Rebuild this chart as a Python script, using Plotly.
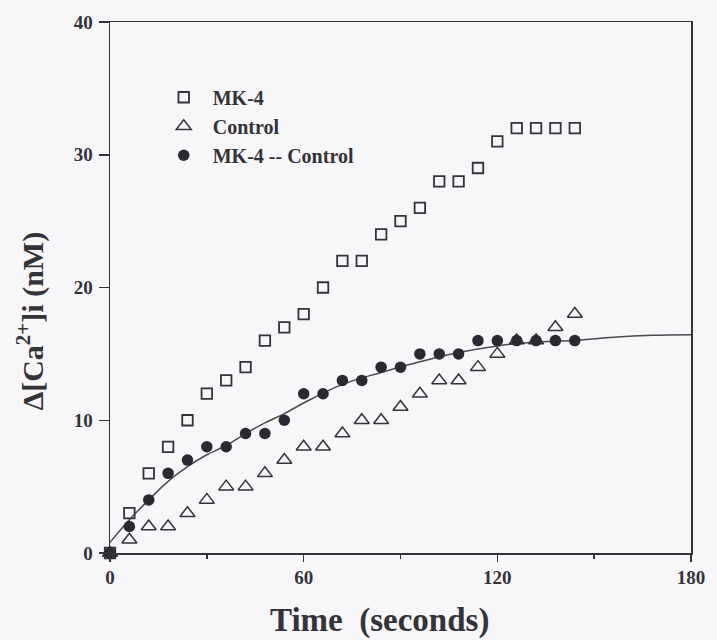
import plotly.graph_objects as go

# Data
time_s = [0, 6, 12, 18, 24, 30, 36, 42, 48, 54, 60, 66, 72, 78, 84, 90,
          96, 102, 108, 114, 120, 126, 132, 138, 144]
mk4 = [0, 3, 6, 8, 10, 12, 13, 14, 16, 17, 18, 20, 22, 22, 24, 25,
       26, 28, 28, 29, 31, 32, 32, 32, 32]
control = [0, 1, 2, 2, 3, 4, 5, 5, 6, 7, 8, 8, 9, 10, 10, 11,
           12, 13, 13, 14, 15, 16, 16, 17, 18]
mk4_minus_control = [0, 2, 4, 6, 7, 8, 8, 9, 9, 10, 12, 12, 13, 13, 14, 14,
                     15, 15, 15, 16, 16, 16, 16, 16, 16]

# Fitted curve
curve_t = [0, 6, 12, 18, 24, 30, 36, 42, 48, 54, 60, 72, 84, 96, 108, 120,
           132, 144, 156, 168, 180]
curve_v = [0.8, 2.5, 4.0, 5.4, 6.5, 7.4, 8.1, 9.0, 9.8, 10.5, 11.3, 12.7,
           13.6, 14.4, 15.1, 15.6, 15.9, 16.0, 16.25, 16.4, 16.45]

x_ticks = [0, 60, 120, 180]
y_ticks = [0, 10, 20, 30, 40]

INK = "#333338"
BG = "#f7f6f8"
FONT = "Liberation Serif"

fig = go.Figure()

fig.add_trace(go.Scatter(
    x=curve_t, y=curve_v, mode="lines", line=dict(color="#4a4a4f", width=1.5, shape="spline"),
    showlegend=False, hoverinfo="skip"))

fig.add_trace(go.Scatter(
    x=time_s, y=mk4, mode="markers", name="MK-4",
    marker=dict(symbol="square-open", size=10.5, color=INK, line=dict(width=1.8, color=INK)),
    cliponaxis=False))

fig.add_trace(go.Scatter(
    x=time_s, y=control, mode="markers", name="Control",
    marker=dict(symbol="triangle-up-open", size=13, color=INK, line=dict(width=1.5, color=INK)),
    cliponaxis=False))

fig.add_trace(go.Scatter(
    x=time_s, y=mk4_minus_control, mode="markers", name="MK-4 -- Control",
    marker=dict(symbol="circle", size=11.5, color="#2a2a33", line=dict(width=0)),
    cliponaxis=False))

tick_font = dict(family=FONT, size=19, color=INK, weight="bold")

fig.update_layout(
    width=717, height=640,
    margin=dict(l=109.5, r=17, t=20.5, b=87),
    paper_bgcolor=BG, plot_bgcolor=BG,
    font=dict(family=FONT, color=INK),
    showlegend=True,
    legend=dict(
        x=0.077, y=0.895, xanchor="left", yanchor="top",
        bgcolor="rgba(0,0,0,0)", borderwidth=0,
        font=dict(family=FONT, size=20, color=INK, weight="bold"),
        itemwidth=48, tracegroupgap=0),
    xaxis=dict(
        range=[0, 180], tickvals=x_ticks, ticktext=[str(v) for v in x_ticks],
        ticks="outside", ticklen=7, tickwidth=1.5, tickcolor=INK,
        minor=dict(dtick=30, tick0=0, ticks="outside", ticklen=4, tickwidth=1.5, tickcolor=INK),
        showgrid=False, zeroline=False, showline=True, linecolor=INK, linewidth=1.5,
        mirror=True, tickfont=tick_font, fixedrange=True),
    yaxis=dict(
        range=[0, 40], tickvals=y_ticks, ticktext=[str(v) for v in y_ticks],
        ticks="outside", ticklen=10, tickwidth=1.5, tickcolor=INK,
        showgrid=False, zeroline=False, showline=True, linecolor=INK, linewidth=1.5,
        mirror=True, tickfont=tick_font, ticklabelstandoff=2, fixedrange=True),
    annotations=[
        dict(text="Time\u00a0 (seconds)", xref="paper", yref="paper",
             x=0.464, y=-0.127, xanchor="center", yanchor="middle", showarrow=False,
             font=dict(family=FONT, size=33, color=INK, weight="bold")),
        dict(text="Δ[Ca<sup>2+</sup>]i (nM)", xref="paper", yref="paper",
             x=-0.136, y=0.4376, xanchor="center", yanchor="middle", showarrow=False,
             textangle=-90,
             font=dict(family=FONT, size=30, color=INK, weight="bold")),
    ],
)

fig.write_html(
    "out.html",
    config={"displayModeBar": False, "staticPlot": True},
    post_script="document.body.style.margin='0';document.body.style.overflow='hidden';",
)
